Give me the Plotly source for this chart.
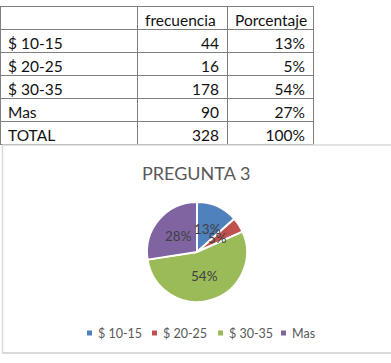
import math
import plotly.graph_objects as go

W, H = 391, 363

# ---- data ----
categorias = ["$ 10-15", "$ 20-25", "$ 30-35", "Mas"]
frecuencia = [44, 16, 178, 90]
porcentaje = ["13%", "5%", "54%", "27%"]
total_frec = 328
total_pct = "100%"
etiquetas_grafico = ["13%", "5%", "54%", "28%"]
colores = ["#4F81BD", "#C0504D", "#9BBB59", "#8064A2"]
titulo = "PREGUNTA 3"

FONT = "Lato"


def px(x):
    return x / W


def py(y):
    return 1 - y / H


fig = go.Figure()

# ---- table ----
col1 = categorias + ["TOTAL"]
col2 = [str(v) for v in frecuencia] + [str(total_frec)]
col3 = porcentaje + [total_pct]

fig.add_trace(go.Table(
    domain=dict(x=[px(0), px(313.5)], y=[py(150), py(6)]),
    columnwidth=[137, 90, 86],
    header=dict(
        values=["", "frecuencia", "Porcentaje"],
        align=["left", "left", "left"],
        height=23,
        fill_color="white",
        line=dict(color="#7f7f7f", width=1),
        font=dict(family=FONT, size=15.5, color="#111111"),
    ),
    cells=dict(
        values=[col1, col2, col3],
        align=["left", "right", "right"],
        height=23,
        fill_color="white",
        line=dict(color="#7f7f7f", width=1),
        font=dict(family=FONT, size=15.5, color="#111111"),
    ),
))

# ---- pie ----
cx, cy, R = 197, 252, 50
fig.add_trace(go.Pie(
    labels=categorias,
    values=frecuencia,
    sort=False,
    direction="clockwise",
    rotation=0,
    marker=dict(colors=colores, line=dict(color="white", width=2)),
    textinfo="none",
    hoverinfo="label+value+percent",
    showlegend=False,
    domain=dict(x=[px(cx - R), px(cx + R)], y=[py(cy + R), py(cy - R)]),
))

annotations = []
shapes = []

# data labels at half radius along each slice's mid-angle
tot = sum(frecuencia)
acc = 0
for v, lab in zip(frecuencia, etiquetas_grafico):
    mid = (acc + v / 2) / tot * 2 * math.pi
    acc += v
    lx = cx + 0.5 * R * math.sin(mid)
    ly = cy - 0.5 * R * math.cos(mid)
    annotations.append(dict(
        x=px(lx), y=py(ly), xref="paper", yref="paper",
        text=lab, showarrow=False, xanchor="center", yanchor="middle",
        font=dict(family=FONT, size=13.5, color="#404040"),
    ))

# title
annotations.append(dict(
    x=px(196), y=py(173), xref="paper", yref="paper", text=titulo,
    showarrow=False, xanchor="center", yanchor="middle",
    font=dict(family=FONT, size=18, color="#595959"),
))

# legend (manual, compact like Excel)
leg_x = [87, 152, 218, 281]
leg_y = 333
for x0, lab, col in zip(leg_x, categorias, colores):
    shapes.append(dict(
        type="rect", xref="paper", yref="paper",
        x0=px(x0), x1=px(x0 + 5), y0=py(leg_y + 2.5), y1=py(leg_y - 2.5),
        fillcolor=col, line=dict(width=0),
    ))
    annotations.append(dict(
        x=px(x0 + 9), y=py(leg_y), xref="paper", yref="paper", text=lab,
        showarrow=False, xanchor="left", yanchor="middle",
        font=dict(family=FONT, size=12.5, color="#595959"),
    ))

# chart area frame
frame = "#d9d9d9"
shapes.append(dict(type="line", xref="paper", yref="paper",
                   x0=px(2), x1=px(391), y0=py(145), y1=py(145),
                   line=dict(color=frame, width=1.5)))
shapes.append(dict(type="line", xref="paper", yref="paper",
                   x0=px(2.5), x1=px(2.5), y0=py(145), y1=py(353),
                   line=dict(color=frame, width=1.5)))
shapes.append(dict(type="line", xref="paper", yref="paper",
                   x0=px(2), x1=px(391), y0=py(353), y1=py(353),
                   line=dict(color=frame, width=2)))

fig.update_layout(
    width=W, height=H,
    margin=dict(l=0, r=0, t=0, b=0),
    paper_bgcolor="white",
    plot_bgcolor="white",
    annotations=annotations,
    shapes=shapes,
    showlegend=False,
)

fig.write_html("out.html")
